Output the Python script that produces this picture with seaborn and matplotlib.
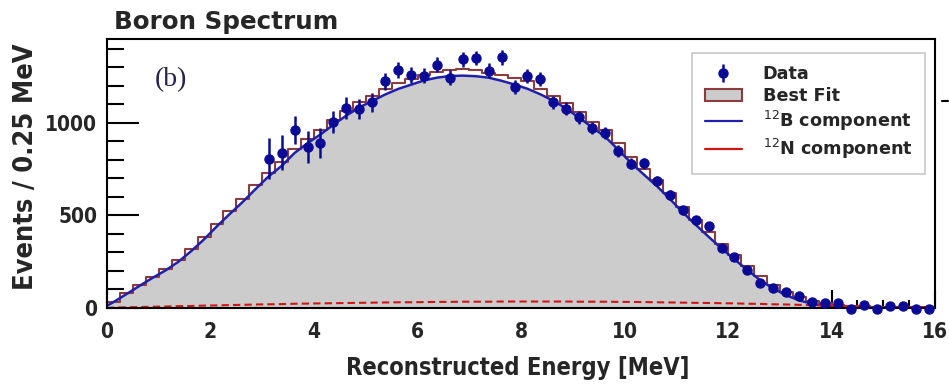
import numpy as np
import pandas as pd
import matplotlib
matplotlib.use("Agg")
import matplotlib.pyplot as plt
from matplotlib import font_manager
from matplotlib.lines import Line2D
from matplotlib.patches import Patch
import seaborn as sns

# ---------------- data ----------------
bin_edges = np.arange(0.0, 16.0001, 0.25)
bin_centers = np.arange(0.125, 16.0, 0.25)

best_fit = [34, 79, 124, 169, 210, 259, 318, 384, 456, 525, 591, 663,
            732, 789, 861, 915, 963, 1017, 1067, 1112, 1148, 1184, 1215, 1238,
            1262, 1278, 1287, 1290, 1287, 1270, 1262, 1244, 1225, 1184, 1148, 1107,
            1058, 1008, 960, 890, 816, 753, 690, 620, 546, 478, 412, 348,
            288, 228, 172, 125, 88, 58, 38, 25, 17, 12, 9, 7,
            6, 5, 4, 3]

curve_energy = np.concatenate([[0.0], bin_centers, [16.0]])
b_component = [12, 32, 75, 119, 162, 202, 249, 307, 371, 442, 509, 574, 644,
               712, 768, 838, 891, 938, 991, 1040, 1084, 1119, 1154, 1184, 1207,
               1230, 1245, 1254, 1256, 1253, 1245, 1228, 1208, 1185, 1155, 1120, 1078,
               1028, 977, 926, 857, 785, 721, 659, 590, 517, 450, 385, 322,
               263, 205, 150, 105, 69, 41, 23, 11, 5, 2, 1, 0,
               0, 0, 0, 0, 0]
n_component = [0, 2, 4, 5, 7, 8, 10, 11, 13, 14, 16, 17, 19,
               20, 21, 23, 24, 25, 26, 27, 28, 29, 30, 31, 31,
               32, 33, 33, 34, 34, 34, 35, 35, 35, 35, 35, 35,
               34, 34, 34, 33, 33, 32, 31, 30, 29, 28, 27, 26,
               25, 23, 22, 20, 19, 17, 15, 14, 12, 10, 9, 7,
               6, 5, 4, 3, 3]

data_energy = np.arange(3.125, 16.0, 0.25)
data_counts = [807, 839, 963, 870, 893, 1004, 1082, 1077, 1112, 1225, 1287, 1260,
               1256, 1315, 1244, 1344, 1351, 1283, 1355, 1193, 1256, 1238, 1112, 1077,
               1031, 974, 945, 848, 780, 783, 686, 609, 528, 474, 442, 327,
               273, 205, 133, 106, 84, 65, 34, 27, 27, -3, 16, -6,
               11, 11, -8, -6]
data_errors = [110, 95, 75, 85, 80, 60, 60, 55, 50, 45, 45, 45,
               42, 40, 40, 40, 40, 40, 40, 38, 38, 38, 36, 35,
               34, 33, 32, 31, 30, 30, 28, 27, 25, 24, 23, 21,
               19, 17, 15, 13, 12, 10, 9, 8, 7, 6, 6, 5,
               5, 5, 5, 5]

x_ticks = [0, 2, 4, 6, 8, 10, 12, 14, 16]
y_ticks = [0, 500, 1000]

hist_df = pd.DataFrame({"energy": bin_centers, "fit": np.asarray(best_fit, float)})
curve_df = pd.DataFrame({"energy": curve_energy,
                         "b": np.asarray(b_component, float),
                         "n": np.asarray(n_component, float)})

# ---------------- style ----------------
sns.set_style("ticks")
names = {f.name for f in font_manager.fontManager.ttflist}
has_condensed = any(f.name == "DejaVu Sans" and f.stretch == "condensed"
                    for f in font_manager.fontManager.ttflist)
if has_condensed:
    narrow = dict(family="DejaVu Sans", stretch="condensed", weight="bold")
elif "Liberation Sans Narrow" in names:
    narrow = dict(family="Liberation Sans Narrow", weight="bold")
else:
    narrow = dict(family="DejaVu Sans", weight="bold")
plt.rcParams["font.family"] = ["DejaVu Sans"]

navy = "#0a0a96"
blue_line = "#2020ac"
brown = "#8c3c3c"
red = "#d21414"
gray_fill = "#cccccc"

fig = plt.figure(figsize=(9.49, 3.86), dpi=100)
W, H = 949, 386
ax = fig.add_axes([107 / W, 1 - 308 / H, 828 / W, 269 / H])

ax.fill_between(curve_df["energy"], curve_df["b"], 0, color=gray_fill, lw=0, zorder=1)
sns.histplot(data=hist_df, x="energy", weights="fit", bins=list(bin_edges),
             element="step", fill=False, color=brown, linewidth=1.5, ax=ax)
sns.lineplot(data=curve_df, x="energy", y="b", color=blue_line, lw=1.8, ax=ax)
sns.lineplot(data=curve_df, x="energy", y="n", color=red, lw=1.5, ax=ax,
             linestyle=(0, (3.5, 2)))
eb = ax.errorbar(data_energy, data_counts, yerr=data_errors, fmt="o", color=navy,
                 ms=6.5, elinewidth=1.8, capsize=0, zorder=5, clip_on=False)

ax.set_xlim(0, 16)
ax.set_ylim(0, 1454)
ax.set_xticks(x_ticks)
ax.set_yticks(y_ticks)
ax.set_xticks(np.arange(0, 16.01, 0.5), minor=True)
ax.set_yticks(np.arange(0, 1401, 100), minor=True)
ax.tick_params(axis="both", which="both", direction="in", color="black", width=1.5,
               top=False, right=False)
ax.tick_params(axis="x", which="major", length=13, pad=10)
ax.tick_params(axis="x", which="minor", length=6)
ax.tick_params(axis="y", which="major", length=23, pad=7)
ax.tick_params(axis="y", which="minor", length=12)
for lab in ax.get_xticklabels() + ax.get_yticklabels():
    lab.set_fontsize(15)
    lab.set_fontweight("bold")
    lab.set_family(narrow["family"])
    if "stretch" in narrow:
        lab.set_fontstretch(narrow["stretch"])
for s in ax.spines.values():
    s.set_color("black")
    s.set_linewidth(1.5)
ax.set_ylabel("")
ax.set_xlabel("")

fig.text(518 / W, 1 - 368 / H, "Reconstructed Energy [MeV]", ha="center", va="center",
         fontsize=17, **narrow)
fig.text(26 / W, 1 - 167 / H, "Events / 0.25 MeV", ha="center", va="center",
         rotation=90, fontsize=19.5, **narrow)
fig.text(114 / W, 1 - 22 / H, "Boron Spectrum", ha="left", va="center",
         fontsize=17.7, fontweight="bold", family="DejaVu Sans")
ax.text(0.058, 0.848, "(b)", transform=ax.transAxes, ha="left", va="center",
        fontsize=20, family="Liberation Serif", color="#2a2050")

handles = [eb,
           Patch(facecolor=gray_fill, edgecolor=brown, lw=1.5),
           Line2D([], [], color=blue_line, lw=1.6),
           Line2D([], [], color=red, lw=1.6)]
labels = ["Data", "Best Fit", r"$^{12}$B component", r"$^{12}$N component"]
leg = ax.legend(handles, labels, loc="upper right", bbox_to_anchor=(0.988, 0.948),
                frameon=True, fancybox=False, edgecolor="#c8c8c8", framealpha=1,
                prop=dict(family="DejaVu Sans", weight="bold", size=12.7),
                handlelength=2.1, handletextpad=1.2, labelspacing=0.22,
                borderpad=0.7, borderaxespad=0)
leg.get_frame().set_linewidth(1.2)

fig.add_artist(Line2D([942 / W, 948 / W], [1 - 101 / H, 1 - 101 / H],
                      color="black", lw=1.5))

fig.savefig("out.png", dpi=100)
